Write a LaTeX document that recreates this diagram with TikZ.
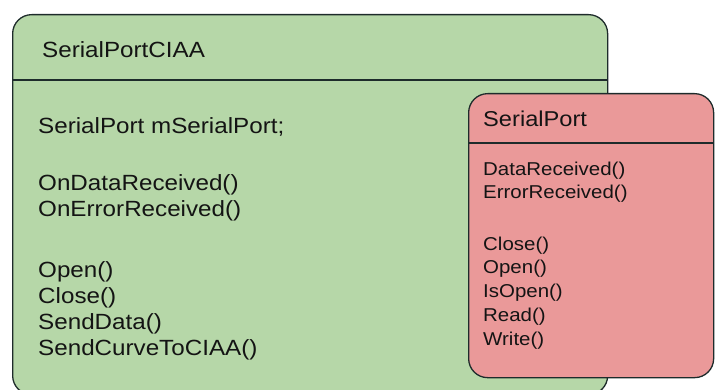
\documentclass[tikz,border=0pt]{standalone}
\usepackage{fontspec}
\setmainfont{Liberation Sans}[FakeStretch=1.1]
\begin{document}
\definecolor{classgreen}{HTML}{B6D7A8}
\definecolor{classred}{HTML}{EA9999}
\definecolor{classline}{HTML}{1E2B2B}
\tikzset{
  classbox/.style={draw=classline, line width=1.3pt, rounded corners=19pt,
    anchor=north west, inner sep=0pt},
  divider/.style={draw=classline, line width=1.3pt},
  member/.style={anchor=west, inner sep=0pt, text=black!92,
    text height=0.73em, text depth=0.21em, yshift=-2.5pt},
  bigtxt/.style={member, font=\fontsize{22}{26}\selectfont},
  smalltxt/.style={member, font=\fontsize{18.6}{22}\selectfont},
}
\begin{tikzpicture}[x=1pt, y=-1pt]
  \useasboundingbox (0,0) rectangle (715,390);
  \clip (0,0) rectangle (715,390);

  % SerialPortCIAA class
  \node[classbox, fill=classgreen, minimum width=595pt, minimum height=380pt]
    (ciaa) at (12,14) {};
  \coordinate (ciaasep) at (0,80);
  \draw[divider] (ciaa.west |- ciaasep) -- (ciaa.east |- ciaasep);
  \node[bigtxt] (ciaaname) at (42,52) {SerialPortCIAA};
  \node[bigtxt] (m1) at (38,128) {SerialPort mSerialPort;};
  \node[bigtxt] (m2) at (38,185) {OnDataReceived()};
  \node[bigtxt] (m3) at (38,211) {OnErrorReceived()};
  \node[bigtxt] (m4) at (38,272) {Open()};
  \node[bigtxt] (m5) at (38,298) {Close()};
  \node[bigtxt] (m6) at (38,324) {SendData()};
  \node[bigtxt] (m7) at (38,350) {SendCurveToCIAA()};

  % SerialPort class
  \node[classbox, fill=classred, minimum width=245pt, minimum height=284pt]
    (sp) at (468,93) {};
  \coordinate (spsep) at (0,143);
  \draw[divider] (sp.west |- spsep) -- (sp.east |- spsep);
  \node[member, font=\fontsize{21.5}{25}\selectfont] (spname) at (483,121) {SerialPort};
  \node[smalltxt] (s1) at (483,170) {DataReceived()};
  \node[smalltxt] (s2) at (483,193) {ErrorReceived()};
  \node[smalltxt] (s3) at (483,245) {Close()};
  \node[smalltxt] (s4) at (483,268) {Open()};
  \node[smalltxt] (s5) at (483,292) {IsOpen()};
  \node[smalltxt] (s6) at (483,316) {Read()};
  \node[smalltxt] (s7) at (483,340) {Write()};
\end{tikzpicture}
\end{document}
